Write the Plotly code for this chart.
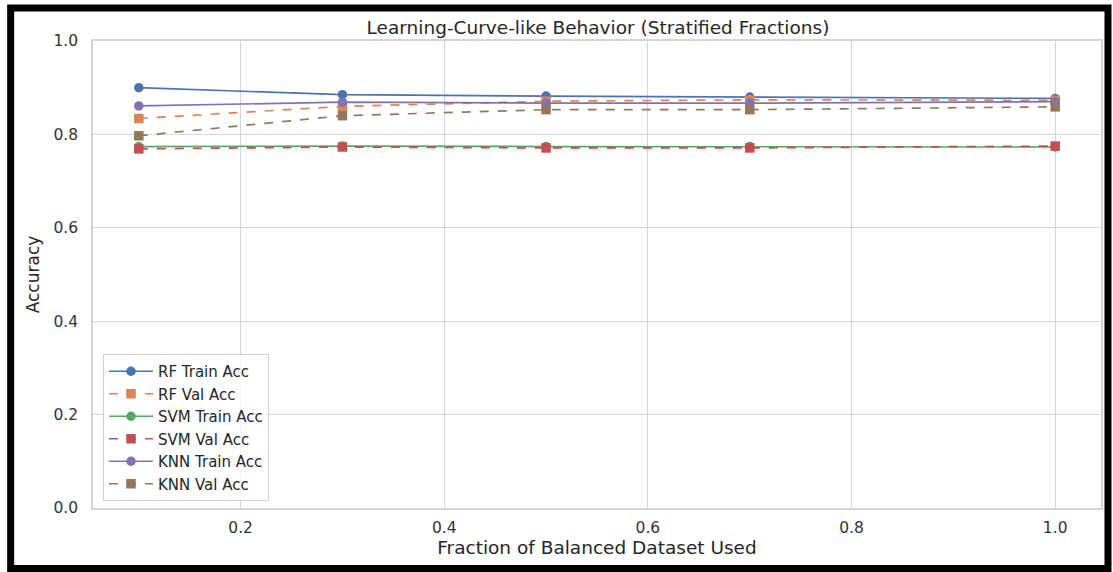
import plotly.graph_objects as go

fractions = [0.1, 0.3, 0.5, 0.7, 1.0]

rf_train = [0.900, 0.885, 0.882, 0.880, 0.877]
rf_val = [0.834, 0.860, 0.871, 0.874, 0.873]
svm_train = [0.774, 0.775, 0.774, 0.774, 0.773]
svm_val = [0.769, 0.773, 0.771, 0.771, 0.775]
knn_train = [0.861, 0.869, 0.867, 0.867, 0.870]
knn_val = [0.797, 0.840, 0.853, 0.853, 0.859]

series = [
    ("RF Train Acc", rf_train, "#4C72B0", "solid", "circle"),
    ("RF Val Acc", rf_val, "#DD8452", "dash", "square"),
    ("SVM Train Acc", svm_train, "#55A868", "solid", "circle"),
    ("SVM Val Acc", svm_val, "#C44E52", "dash", "square"),
    ("KNN Train Acc", knn_train, "#8172B3", "solid", "circle"),
    ("KNN Val Acc", knn_val, "#937860", "dash", "square"),
]

W, H = 1113, 572
ML, MR, MT, MB = 93, 10, 41, 64
PW, PH = W - ML - MR, H - MT - MB

fig = go.Figure()
for name, vals, color, dash, sym in series:
    fig.add_trace(go.Scatter(
        x=fractions, y=vals, name=name, mode="lines+markers",
        line=dict(color=color, width=1.7, dash=dash),
        marker=dict(color=color, size=9.5, symbol=sym),
    ))

def px_x(p):
    return (p - ML) / PW

def px_y(p):
    return (H - MB - p) / PH

fig.add_shape(type="rect", xref="paper", yref="paper",
              x0=px_x(10.5), x1=px_x(1110), y0=px_y(568.5), y1=px_y(8),
              line=dict(color="black", width=7), fillcolor="rgba(0,0,0,0)",
              layer="above")

grid = "#d5d5d5"
tickfont = dict(family="DejaVu Sans", size=15.5, color="#333333")
fig.update_layout(
    width=W, height=H,
    margin=dict(l=ML, r=MR, t=MT, b=MB, pad=0),
    paper_bgcolor="white", plot_bgcolor="white",
    font=dict(family="DejaVu Sans", color="#262626"),
    title=dict(text="Learning-Curve-like Behavior (Stratified Fractions)",
               x=598 / W, xanchor="center", y=1 - 28 / H, yanchor="middle",
               font=dict(size=18.5, color="#262626")),
    xaxis=dict(range=[0.055, 1.045], tickvals=[0.2, 0.4, 0.6, 0.8, 1.0],
               ticktext=["0.2", "0.4", "0.6", "0.8", "1.0"],
               showgrid=True, gridcolor=grid, gridwidth=1.2,
               showline=True, linecolor=grid, linewidth=1.5, mirror=True,
               zeroline=False, ticks="", tickfont=tickfont, ticklabelstandoff=5,
               title=dict(text="Fraction of Balanced Dataset Used",
                          font=dict(size=18.5, color="#262626"), standoff=2)),
    yaxis=dict(range=[0, 1], tickvals=[0, 0.2, 0.4, 0.6, 0.8, 1.0],
               ticktext=["0.0", "0.2", "0.4", "0.6", "0.8", "1.0"],
               showgrid=True, gridcolor=grid, gridwidth=1.2,
               showline=True, linecolor=grid, linewidth=1.5, mirror=True,
               zeroline=False, ticks="", tickfont=tickfont, ticklabelstandoff=10,
               title=dict(text="Accuracy", font=dict(size=17, color="#262626"),
                          standoff=10)),
    legend=dict(x=px_x(103), y=px_y(501), xanchor="left", yanchor="bottom",
                bgcolor="rgba(255,255,255,0.8)", bordercolor="#d0d0d0",
                borderwidth=1, font=dict(size=15, color="#262626"),
                tracegroupgap=0, itemwidth=44),
    showlegend=True,
)

fig.write_html("out.html")
